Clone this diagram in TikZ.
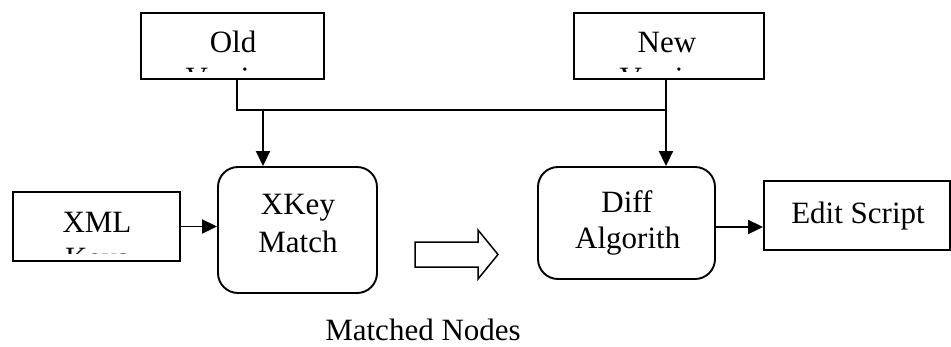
\documentclass[tikz,border=0pt]{standalone}
\usepackage{fontspec}
\setmainfont{Liberation Serif}
\usetikzlibrary{arrows.meta}
\begin{document}
\begin{tikzpicture}[x=1pt,y=-1pt,
  box/.style={draw,line width=1.9pt,rectangle,inner sep=0pt},
  rbox/.style={box,rounded corners=20pt},
  lbl/.style={anchor=base,inner sep=0pt,font=\fontsize{31}{36}\selectfont},
  line/.style={line width=1.9pt},
  arr/.style={line width=1.9pt,-{Triangle[length=15pt,width=14pt]}},
  hollow/.style={draw,line width=1.5pt,line join=miter}]
\useasboundingbox (0,0) rectangle (951,346);
% boxes
\node[box,minimum width=183pt,minimum height=66pt] (Old) at (232.5,46) {};
\node[box,minimum width=190pt,minimum height=66pt] (New) at (669,46) {};
\node[box,minimum width=167pt,minimum height=69pt] (XML) at (96.5,226.5) {};
\node[rbox,minimum width=159pt,minimum height=126pt] (XKey) at (297.5,230) {};
\node[rbox,minimum width=177pt,minimum height=112pt] (Diff) at (626.5,223) {};
\node[box,minimum width=186pt,minimum height=69pt] (Edit) at (857,215.5) {};
% texts (clipped as printed)
\begin{scope}
  \clip (145,16) rectangle (320,71);
  \node[lbl] (tOld) at (233,52) {Old};
  \node[lbl] (tOld2) at (233,88) {Version};
\end{scope}
\begin{scope}
  \clip (578,16) rectangle (760,71);
  \node[lbl] (tNew) at (667,52) {New};
  \node[lbl] (tNew2) at (667,88) {Version};
\end{scope}
\begin{scope}
  \clip (16,195) rectangle (177,253);
  \node[lbl] (tXML) at (97,232) {XML};
  \node[lbl] (tXML2) at (97,268) {Keys};
\end{scope}
\node[lbl] (tXKey) at (298,214) {XKey};
\node[lbl] (tMatch) at (298,252) {Match};
\begin{scope}
  \clip (560,170) rectangle (680,276);
  \node[lbl] (tDiff) at (627,212) {Diff};
  \node[lbl,anchor=base west] (tAlg) at (575,248) {Algorithm};
\end{scope}
\node[lbl] (tEdit) at (858,223) {Edit Script};
\node[lbl] (tMatched) at (423,340) {Matched Nodes};
% connectors
\coordinate (j1) at (237,110);
\coordinate (j2) at (666,110);
\coordinate (a1) at (263,110);
\draw[line] (Old.south -| j1) -- (j1) -- (j2);
\draw[line] (New.south -| j2) -- (j2);
\draw[arr] (a1) -- (a1 |- XKey.north);
\draw[arr] (j2) -- (j2 |- Diff.north);
\draw[arr] (XML.east) -- (XKey.west |- XML.east);
\draw[arr] ([yshift=-4pt]Diff.east) -- ([yshift=-4pt]Diff.east -| Edit.west);
% hollow block arrow
\draw[hollow] (415,242) -- (478,242) -- (478,230) -- (498,254.5) -- (478,279) -- (478,267) -- (415,267) -- cycle;
\end{tikzpicture}
\end{document}
